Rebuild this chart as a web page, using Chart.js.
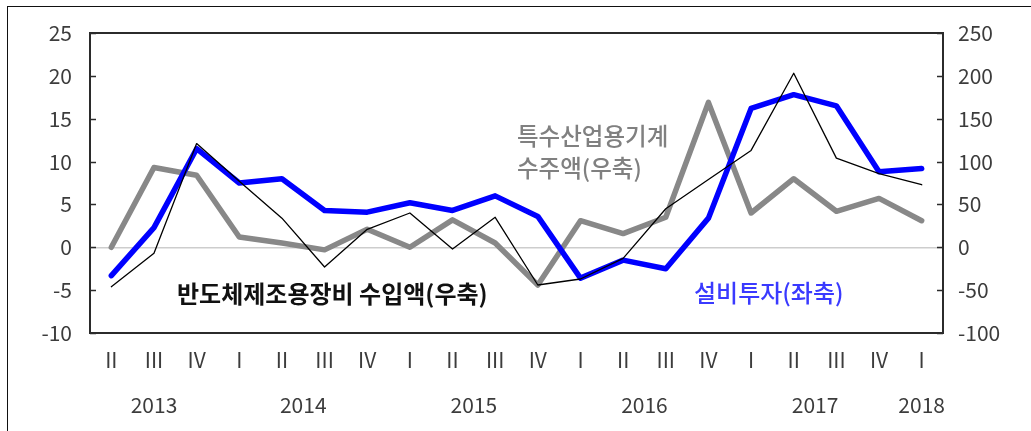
<!DOCTYPE html>
<html>
<head>
<meta charset="utf-8">
<script src="https://cdn.jsdelivr.net/npm/chart.js@4/dist/chart.umd.min.js"></script>
<style>
  html, body { margin: 0; padding: 0; background: #fff; overflow: hidden; }
  #wrap { position: relative; width: 1031px; height: 431px; }
  #frame { position: absolute; left: 7px; top: 6px; width: 1100px; height: 500px; border: 1px solid #111; }
  canvas { position: absolute; left: 0; top: 0; }
</style>
</head>
<body>
<div id="wrap">
  <div id="frame"></div>
  <canvas id="chart" width="1031" height="431"></canvas>
</div>
<script>
// quarters 2013 II .. 2018 I
const quarters = ['II', 'III', 'IV', 'I', 'II', 'III', 'IV', 'I', 'II', 'III', 'IV',
                  'I', 'II', 'III', 'IV', 'I', 'II', 'III', 'IV', 'I'];
const quarterYears = [2013, 2013, 2013, 2014, 2014, 2014, 2014, 2015, 2015, 2015, 2015,
                      2016, 2016, 2016, 2016, 2017, 2017, 2017, 2017, 2018];

// 설비투자 (left axis, %)
const investment = [-3.3, 2.3, 11.5, 7.5, 8.0, 4.3, 4.1, 5.2, 4.3, 6.0, 3.6,
                    -3.6, -1.5, -2.5, 3.4, 16.2, 17.8, 16.5, 8.8, 9.2];
// 특수산업용기계 수주액 (right axis, %)
const machineryOrders = [0, 93, 84, 12, 5, -3, 21, 0, 32, 5, -44,
                         31, 16, 35, 169, 40, 80, 42, 57, 31];
// 반도체제조용장비 수입액 (right axis, %)
const chipEquipImports = [-46, -7, 121, 77, 34, -23, 21, 40, -2, 35, -44,
                          -37, -13, 45, 79, 113, 203, 104, 86, 73];

const leftTicks = { min: -10, max: 25, step: 5 };
const rightTicks = { min: -100, max: 250, step: 50 };

const tickColor = '#3c3c3c';
const tickFont = { family: "'Noto Sans CJK KR', 'Noto Sans', sans-serif", size: 21 };

// frame, inward ticks, year row and the series captions
const extras = {
  id: 'extras',
  afterDraw(chart) {
    const { ctx, chartArea: a, scales } = chart;
    ctx.save();

    // inward tick marks
    ctx.strokeStyle = '#2b2b2b';
    ctx.lineWidth = 1.5;
    scales.y.ticks.forEach(t => {
      const y = Math.round(scales.y.getPixelForValue(t.value)) + 0.5;
      ctx.beginPath(); ctx.moveTo(a.left, y); ctx.lineTo(a.left + 6, y); ctx.stroke();
    });
    scales.y1.ticks.forEach(t => {
      const y = Math.round(scales.y1.getPixelForValue(t.value)) + 0.5;
      ctx.beginPath(); ctx.moveTo(a.right, y); ctx.lineTo(a.right - 6, y); ctx.stroke();
    });

    // plot frame
    ctx.lineWidth = 2;
    ctx.strokeRect(a.left, a.top, a.right - a.left, a.bottom - a.top);

    // year labels centred under their quarters
    ctx.fillStyle = tickColor;
    ctx.font = `${tickFont.size}px ${tickFont.family}`;
    ctx.textAlign = 'center';
    ctx.textBaseline = 'middle';
    const groups = {};
    quarterYears.forEach((yr, i) => { (groups[yr] = groups[yr] || []).push(i); });
    Object.keys(groups).forEach(yr => {
      const idx = groups[yr];
      const mid = (idx[0] + idx[idx.length - 1]) / 2;
      ctx.fillText(yr, scales.x.getPixelForValue(mid), 405);
    });

    // captions
    ctx.textAlign = 'left';
    ctx.font = `bold 24px 'Noto Sans CJK KR', sans-serif`;
    ctx.fillStyle = '#111';
    ctx.fillText('반도체제조용장비 수입액(우축)', 177, 294);

    ctx.font = `500 23.5px 'Noto Sans CJK KR', sans-serif`;
    ctx.fillStyle = '#808080';
    ctx.fillText('특수산업용기계', 517, 136);
    ctx.fillText('수주액(우축)', 517, 168);

    ctx.font = `500 24px 'Noto Sans CJK KR', sans-serif`;
    ctx.fillStyle = '#3a3aff';
    ctx.fillText('설비투자(좌축)', 694, 293);

    ctx.restore();
  }
};

new Chart(document.getElementById('chart'), {
  type: 'line',
  data: {
    labels: quarters,
    datasets: [
      {
        label: '반도체제조용장비 수입액(우축)',
        data: chipEquipImports,
        yAxisID: 'y1',
        borderColor: '#000',
        borderWidth: 1.3,
        order: 0
      },
      {
        label: '설비투자(좌축)',
        data: investment,
        yAxisID: 'y',
        borderColor: '#0000ff',
        borderWidth: 5.5,
        order: 1
      },
      {
        label: '특수산업용기계 수주액(우축)',
        data: machineryOrders,
        yAxisID: 'y1',
        borderColor: '#888888',
        borderWidth: 5.5,
        order: 2
      }
    ]
  },
  options: {
    responsive: false,
    animation: false,
    layout: { padding: { top: 33, left: 0, right: 0, bottom: 0 } },
    elements: {
      point: { radius: 0 },
      line: { tension: 0, borderJoinStyle: 'round', borderCapStyle: 'round' }
    },
    plugins: { legend: { display: false }, tooltip: { enabled: false } },
    scales: {
      x: {
        type: 'category',
        offset: true,
        grid: { display: false, drawTicks: false },
        border: { display: false },
        ticks: { color: tickColor, font: tickFont, padding: 14, maxRotation: 0, autoSkip: false },
        afterFit(s) { s.height = 98; }
      },
      y: {
        position: 'left',
        min: leftTicks.min,
        max: leftTicks.max,
        grid: {
          drawTicks: false,
          lineWidth: 1.5,
          color: c => (c.tick && c.tick.value === 0 ? '#cdcdcd' : 'rgba(0,0,0,0)')
        },
        border: { display: false },
        ticks: { stepSize: leftTicks.step, color: tickColor, font: tickFont, padding: 18 },
        afterFit(s) { s.width = 90; }
      },
      y1: {
        position: 'right',
        min: rightTicks.min,
        max: rightTicks.max,
        grid: { drawOnChartArea: false, drawTicks: false },
        border: { display: false },
        ticks: { stepSize: rightTicks.step, color: tickColor, font: tickFont, padding: 15 },
        afterFit(s) { s.width = 88; }
      }
    }
  },
  plugins: [extras]
});
</script>
</body>
</html>
